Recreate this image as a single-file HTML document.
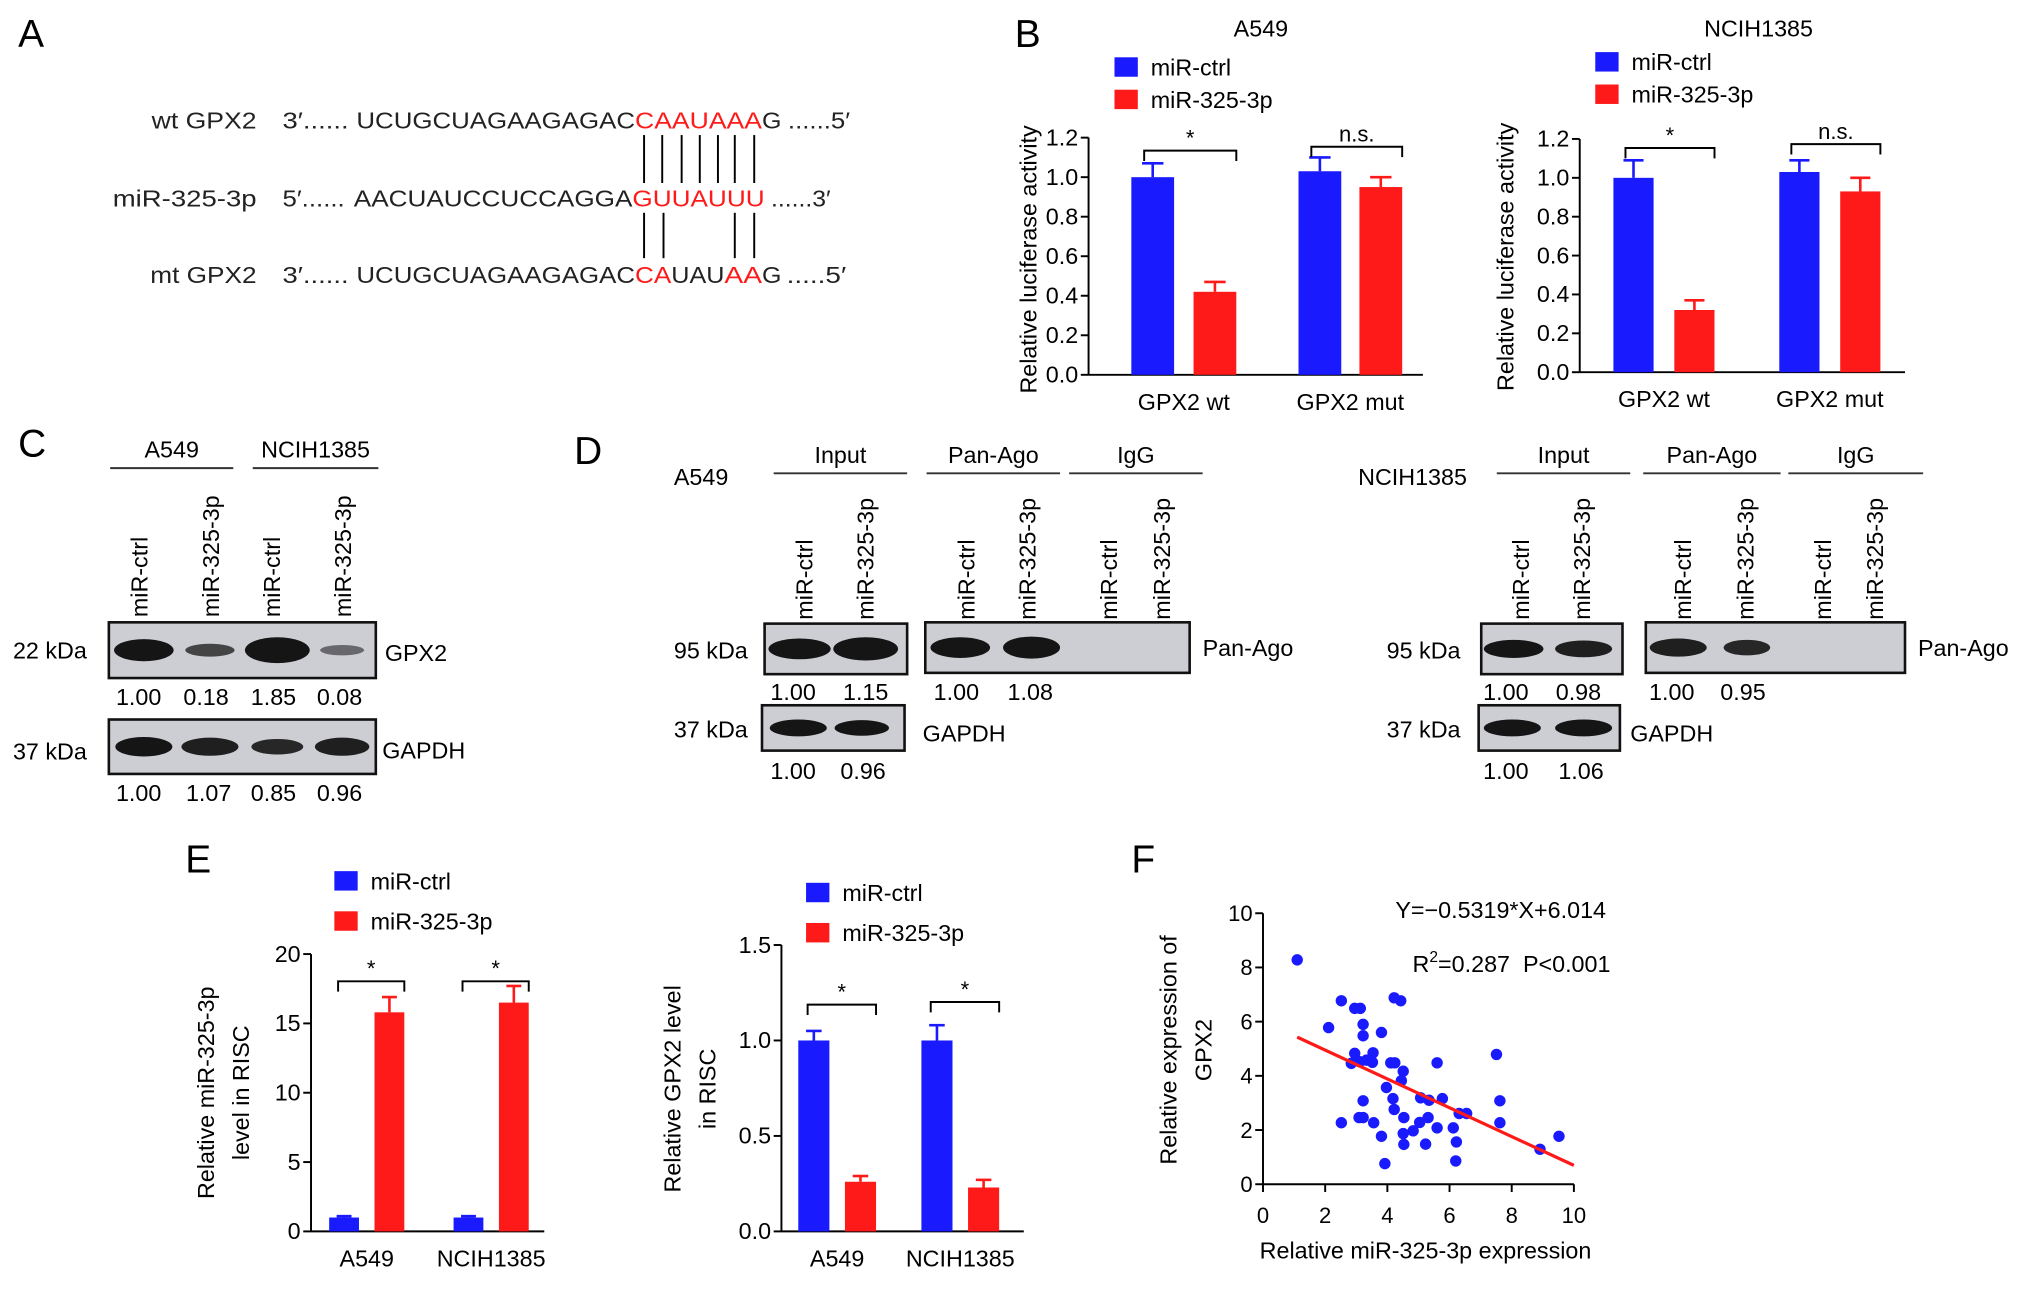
<!DOCTYPE html>
<html><head><meta charset="utf-8"><style>
html,body{margin:0;padding:0;background:#fff}
svg{display:block;font-family:"Liberation Sans",sans-serif}
</style></head><body>
<svg id="fig" width="2032" height="1290" viewBox="0 0 1568 995" xmlns="http://www.w3.org/2000/svg">
<g id="panelA" font-size="18">
<text x="14" y="36" font-size="30">A</text>
<g id="pairs" stroke="#000" stroke-width="1.5"></g>
</g>
<g id="panelB"><text x="783" y="36" font-size="30">B</text></g>
<g id="panelC"><text x="14" y="352" font-size="30">C</text></g>
<g id="panelD"><text x="443" y="358" font-size="30">D</text></g>
<g id="panelE"><text x="143" y="673" font-size="30">E</text></g>
<g id="panelF"><text x="873" y="673" font-size="30">F</text></g>
</svg>
<script>
const NS="http://www.w3.org/2000/svg";
function mk(parent,tag,attrs,text){const e=document.createElementNS(NS,tag);for(const k in attrs)e.setAttribute(k,attrs[k]);if(text!==undefined)e.textContent=text;parent.appendChild(e);return e;}
const BLUE="#1a1aff",RED="#ff1a1a";

// Panel B data
const bCategories=["GPX2 wt","GPX2 mut"];
const bTicks=[0,0.2,0.4,0.6,0.8,1.0,1.2];
const a549Ctrl=[1.0,1.03], a549Ctrl_err=[0.07,0.07];
const a549Mir=[0.42,0.95], a549Mir_err=[0.05,0.05];
const nciCtrl=[1.0,1.03], nciCtrl_err=[0.09,0.06];
const nciMir=[0.32,0.93], nciMir_err=[0.05,0.07];
const bSig=["*","n.s."];

// Panel E data
const eCategories=["A549","NCIH1385"];
const e1Ticks=[0,5,10,15,20];
const e1Ctrl=[1.0,1.0], e1Ctrl_err=[0.1,0.1];
const e1Mir=[15.8,16.5], e1Mir_err=[1.1,1.2];
const e2Ticks=[0,0.5,1.0,1.5];
const e2Ctrl=[1.0,1.0], e2Ctrl_err=[0.05,0.08];
const e2Mir=[0.26,0.23], e2Mir_err=[0.03,0.04];

// Panel F data
const fX=[1.1,2.52,2.11,2.95,3.13,3.22,3.22,3.81,4.22,4.43,2.95,2.84,3.11,3.33,3.54,3.52,4.11,4.24,4.51,4.45,3.97,5.6,7.51,4.18,4.22,3.22,2.52,3.09,3.22,3.56,3.81,3.92,4.53,4.51,4.53,4.83,5.04,5.31,5.23,5.07,5.34,5.77,5.6,6.12,6.22,6.2,6.31,6.55,7.62,7.62,8.91,9.52];
const fY=[8.28,6.77,5.78,6.49,6.49,5.9,5.48,5.6,6.88,6.77,4.83,4.46,4.52,4.58,4.85,4.5,4.48,4.48,4.17,3.82,3.57,4.48,4.79,3.16,2.76,3.08,2.27,2.46,2.46,2.27,1.77,0.76,2.46,1.87,1.47,1.97,2.28,2.46,1.48,3.19,3.1,3.16,2.08,2.08,1.56,0.86,2.61,2.61,3.08,2.27,1.29,1.77];
const fTicks=[0,2,4,6,8,10];
const fSlope=-0.5319, fIntercept=6.014;

// Panel A
(function(){const g=document.getElementById('panelA');
 function seg(x,x2,y,s,col,name){const t=mk(g,'text',{x:x,y:y,textLength:x2-x,lengthAdjust:'spacingAndGlyphs',fill:col||'#222'},s);}
 const y1=99,y2=159,y3=218;
 seg(117,198,y1,"wt GPX2",0,'wt-gpx2-label');seg(218,269,y1,"3′......",0,'strand-end');seg(275,490,y1,"UCUGCUAGAAGAGAC",0,'sequence');seg(490,588,y1,"CAAUAAA",RED,'seed-match');seg(588,603,y1,"G",0,'sequence');seg(608,656,y1,"......5′",0,'strand-end');
 seg(87,198,y2,"miR-325-3p",0,'mir-label');seg(218,266,y2,"5′......",0,'strand-end');seg(273,488,y2,"AACUAUCCUCCAGGA",0,'sequence');seg(488,590,y2,"GUUAUUU",RED,'seed-sequence');seg(595,641,y2,"......3′",0,'strand-end');
 seg(116,198,y3,"mt GPX2",0,'mt-gpx2-label');seg(218,269,y3,"3′......",0,'strand-end');seg(275,490,y3,"UCUGCUAGAAGAGAC",0,'sequence');seg(490,518,y3,"CA",RED,'mutant-match');seg(518,559,y3,"UAU",0,'sequence');seg(559,588,y3,"AA",RED,'mutant-match');seg(588,603,y3,"G",0,'sequence');seg(607,653,y3,".....5′",0,'strand-end');
 const p=document.getElementById('pairs');
 [497,511,526,540,554,567,582].forEach(x=>{const l=mk(p,'line',{x1:x,y1:104,x2:x,y2:141});});
 [497,512,567,582].forEach(x=>{const l=mk(p,'line',{x1:x,y1:164,x2:x,y2:199});});
})();

function barChart(g,o){
 const y=v=>o.y0-(v-o.min)/(o.max-o.min)*(o.y0-o.yTop);
 const ax=mk(g,'g',{stroke:'#000','stroke-width':1.5,fill:'none'});
 
 mk(ax,'line',{x1:o.ax,y1:o.yTop,x2:o.ax,y2:o.y0});
 mk(ax,'line',{x1:o.ax,y1:o.y0,x2:o.axEnd,y2:o.y0});
 o.ticks.forEach(t=>{mk(ax,'line',{x1:o.ax-6,y1:y(t),x2:o.ax,y2:y(t)});
  const tl=mk(g,'text',{x:o.ax-8,y:y(t)+6,'text-anchor':'end','font-size':18},o.fmt?o.fmt(t):String(t));
  });
 o.cats.forEach((c,i)=>{
  [[o.ctrl,o.ctrlE,BLUE,o.bx[i][0]],[o.mir,o.mirE,RED,o.bx[i][1]]].forEach(([vals,errs,col,bx],j)=>{
   const v=vals[i],e=errs[i];
   const r=mk(g,'rect',{x:bx,y:y(v),width:o.bw,height:o.y0-y(v),fill:col});
   
   const cx=bx+o.bw/2;
   mk(g,'line',{x1:cx,y1:y(v),x2:cx,y2:y(v+e),stroke:col,'stroke-width':2});
   mk(g,'line',{x1:cx-o.bw/4,y1:y(v+e),x2:cx+o.bw/4,y2:y(v+e),stroke:col,'stroke-width':2});
  });
  const cl=mk(g,'text',{x:(o.bx[i][0]+o.bx[i][1]+o.bw)/2,y:o.y0+27,'text-anchor':'middle','font-size':18},c);
  
  const x1=o.bx[i][0]+o.bw*0.3,x2=o.bx[i][1]+o.bw,by=o.brY[i];
  mk(g,'path',{d:`M${x1} ${by+8}V${by}H${x2}V${by+8}`,stroke:'#000','stroke-width':1.5,fill:'none'});
  const s=mk(g,'text',{x:(x1+x2)/2,y:by-4,'text-anchor':'middle','font-size':17},o.sig[i]);
  
 });
 [["miR-ctrl",BLUE],["miR-325-3p",RED]].forEach(([t,c],k)=>{
  const ly=o.leg[1]+k*o.legGap;
  const r=mk(g,'rect',{x:o.leg[0],y:ly-8,width:18,height:15,fill:c});
  
  const tt=mk(g,'text',{x:o.leg[0]+28,y:ly+6,'font-size':18},t);
  
 });
 if(o.title){const t=mk(g,'text',{x:o.title[0],y:o.title[1],'text-anchor':'middle','font-size':18},o.title[2]);}
 o.ylab.forEach((l,k)=>{const t=mk(g,'text',{transform:`translate(${o.ylabX+k*27},${o.ylabY}) rotate(-90)`,'text-anchor':'middle','font-size':18},l);});
}
const f1=t=>t.toFixed(1);
const B=document.getElementById('panelB');
barChart(B,{name:'a549-luc',ax:840,axEnd:1098,y0:289,yTop:106,min:0,max:1.2,ticks:bTicks,fmt:f1,cats:bCategories,ctrl:a549Ctrl,ctrlE:a549Ctrl_err,mir:a549Mir,mirE:a549Mir_err,bx:[[873,921],[1002,1049]],bw:33,brY:[116,113],sig:bSig,leg:[860,52],legGap:25,title:[973,28,"A549"],ylab:["Relative luciferase activity"],ylabX:800,ylabY:200});
barChart(B,{name:'nci-luc',ax:1219,axEnd:1470,y0:287,yTop:107,min:0,max:1.2,ticks:bTicks,fmt:f1,cats:bCategories,ctrl:nciCtrl,ctrlE:nciCtrl_err,mir:nciMir,mirE:nciMir_err,bx:[[1245,1292],[1373,1420]],bw:31,brY:[114,111],sig:bSig,leg:[1231,48],legGap:25,title:[1357,28,"NCIH1385"],ylab:["Relative luciferase activity"],ylabX:1168,ylabY:198});
const E=document.getElementById('panelE');
barChart(E,{name:'risc-mir',ax:240,axEnd:420,y0:950,yTop:736,min:0,max:20,ticks:e1Ticks,cats:eCategories,ctrl:e1Ctrl,ctrlE:e1Ctrl_err,mir:e1Mir,mirE:e1Mir_err,bx:[[254,289],[350,385]],bw:23,brY:[757,757],sig:["*","*"],leg:[258,680],legGap:31,ylab:["Relative miR-325-3p","level in RISC"],ylabX:165,ylabY:843});
barChart(E,{name:'risc-gpx2',ax:603,axEnd:790,y0:950,yTop:729,min:0,max:1.5,ticks:e2Ticks,fmt:f1,cats:eCategories,ctrl:e2Ctrl,ctrlE:e2Ctrl_err,mir:e2Mir,mirE:e2Mir_err,bx:[[616,652],[711,747]],bw:24,brY:[775,773],sig:["*","*"],leg:[622,689],legGap:31,ylab:["Relative GPX2 level","in RISC"],ylabX:525,ylabY:840});

function txt(g,x,y,s,name,extra){const t=mk(g,'text',Object.assign({x:x,y:y,'font-size':18},extra||{}),s);return t;}
function vlabel(g,x,yb,s){const t=mk(g,'text',{transform:`translate(${x},${yb}) rotate(-90)`,'font-size':18},s);}
function header(g,x1,x2,y,s){mk(g,'line',{x1:x1,y1:y,x2:x2,y2:y,stroke:'#333','stroke-width':1.5});txt(g,(x1+x2)/2,y-8,s,'group-header',{'text-anchor':'middle'});}
function blot(g,x1,y1,x2,y2,bands,name){
 const r=mk(g,'rect',{x:x1,y:y1,width:x2-x1,height:y2-y1,fill:'#cdcdd4',stroke:'#111','stroke-width':2});
 
 bands.forEach(([cx,w,h,op])=>{mk(g,'ellipse',{cx:cx,cy:(y1+y2)/2,rx:w/2,ry:h/2,fill:'#151515','fill-opacity':op});});
}
const C=document.getElementById('panelC');
header(C,85,180,361,"A549");header(C,195,292,361,"NCIH1385");
[["miR-ctrl",114],["miR-325-3p",169],["miR-ctrl",216],["miR-325-3p",271]].forEach(([s,x])=>vlabel(C,x,476,s));
blot(C,84,480,290,523,[[111,46,17,1],[162,38,10,0.75],[214,50,20,1],[264,34,8,0.55]],'gpx2-blot');
txt(C,10,508,"22 kDa",'mw-label');txt(C,297,510,"GPX2",'protein-label');
["1.00","0.18","1.85","0.08"].forEach((s,i)=>txt(C,[107,159,211,262][i],544,s,'density-value',{'text-anchor':'middle'}));
blot(C,84,555,290,597,[[111,44,15,1],[162,44,14,0.95],[214,40,12,0.9],[264,42,14,0.95]],'gapdh-blot');
txt(C,10,586,"37 kDa",'mw-label');txt(C,295,585,"GAPDH",'protein-label');
["1.00","1.07","0.85","0.96"].forEach((s,i)=>txt(C,[107,161,211,262][i],618,s,'density-value',{'text-anchor':'middle'}));

const D=document.getElementById('panelD');
function dSide(o){
 txt(D,o.name[0],374,o.name[1],'cell-line-label');
 header(D,o.h[0][0],o.h[0][1],365,"Input");header(D,o.h[1][0],o.h[1][1],365,"Pan-Ago");header(D,o.h[2][0],o.h[2][1],365,"IgG");
 o.lanes.forEach((x,i)=>vlabel(D,x,478,i%2?"miR-325-3p":"miR-ctrl"));
 blot(D,o.b1[0],481,o.b1[1],520,o.b1b,'input-pan-ago-blot');
 blot(D,o.b2[0],480,o.b2[1],519,o.b2b,'rip-pan-ago-blot');
 txt(D,o.mw,508,"95 kDa",'mw-label');txt(D,o.pa,506,"Pan-Ago",'protein-label');
 o.v1.forEach(([s,x])=>txt(D,x,540,s,'density-value',{'text-anchor':'middle'}));
 blot(D,o.b1[0]-2,544,o.b1[1]-2,579,o.gb,'gapdh-blot');
 txt(D,o.mw,569,"37 kDa",'mw-label');txt(D,o.gl,572,"GAPDH",'protein-label');
 o.v2.forEach(([s,x])=>txt(D,x,601,s,'density-value',{'text-anchor':'middle'}));
}
dSide({name:[520,"A549"],h:[[597,700],[715,818],[825,928]],lanes:[627,674,752,799,862,903],b1:[590,700],b1b:[[617,48,16,1],[668,50,18,1]],b2:[714,918],b2b:[[741,46,16,1],[796,44,17,1]],mw:520,pa:928,v1:[["1.00",612],["1.15",668],["1.00",738],["1.08",795]],gb:[[616,44,13,1],[665,42,12,1]],gl:712,v2:[["1.00",612],["0.96",666]]});
dSide({name:[1048,"NCIH1385"],h:[[1155,1258],[1268,1374],[1380,1484]],lanes:[1180,1227,1305,1353,1413,1453],b1:[1143,1252],b1b:[[1168,46,14,1],[1222,44,13,0.95]],b2:[1270,1470],b2b:[[1295,44,14,0.95],[1348,36,12,0.9]],mw:1070,pa:1480,v1:[["1.00",1162],["0.98",1218],["1.00",1290],["0.95",1345]],gb:[[1167,44,13,1],[1222,44,13,1]],gl:1258,v2:[["1.00",1162],["1.06",1220]]});

(function(){const g=document.getElementById('panelF');
 const X=v=>974.6+v/10*(1214.5-974.6), Y=v=>913.6-v/10*(913.6-704.5);
 const ax=mk(g,'g',{stroke:'#000','stroke-width':1.5});
 mk(ax,'line',{x1:X(0),y1:Y(0),x2:X(0),y2:Y(10)});mk(ax,'line',{x1:X(0),y1:Y(0),x2:X(10),y2:Y(0)});
 fTicks.forEach(t=>{mk(ax,'line',{x1:X(0)-6,y1:Y(t),x2:X(0),y2:Y(t)});mk(ax,'line',{x1:X(t),y1:Y(0),x2:X(t),y2:Y(0)+6});
  txt(g,X(0)-8,Y(t)+6,String(t),'y-tick-label',{'text-anchor':'end','font-size':17});
  txt(g,X(t),Y(0)+30,String(t),'x-tick-label',{'text-anchor':'middle','font-size':17});});
 fX.forEach((x,i)=>{const c=mk(g,'circle',{cx:X(x),cy:Y(fY[i]),r:4.4,fill:BLUE});});
 const l=mk(g,'line',{x1:X(1.1),y1:Y(fSlope*1.1+fIntercept),x2:X(10),y2:Y(fSlope*10+fIntercept),stroke:'#ff1a1a','stroke-width':2.5});
 
 txt(g,1158,708,"Y=−0.5319*X+6.014",'regression-equation',{'text-anchor':'middle'});
 const r=txt(g,1090,750,"",'r-squared-label');r.innerHTML='R<tspan dy="-8" font-size="12">2</tspan><tspan dy="8">=0.287  P&lt;0.001</tspan>';
 r.setAttribute('style','white-space:pre');
 txt(g,1100,971,"Relative miR-325-3p expression",'x-axis-title',{'text-anchor':'middle'});
 ["Relative expression of","GPX2"].forEach((s,k)=>{const t=mk(g,'text',{transform:`translate(${908+k*27},810) rotate(-90)`,'text-anchor':'middle','font-size':18},s);});
})();
</script>
</body></html>
